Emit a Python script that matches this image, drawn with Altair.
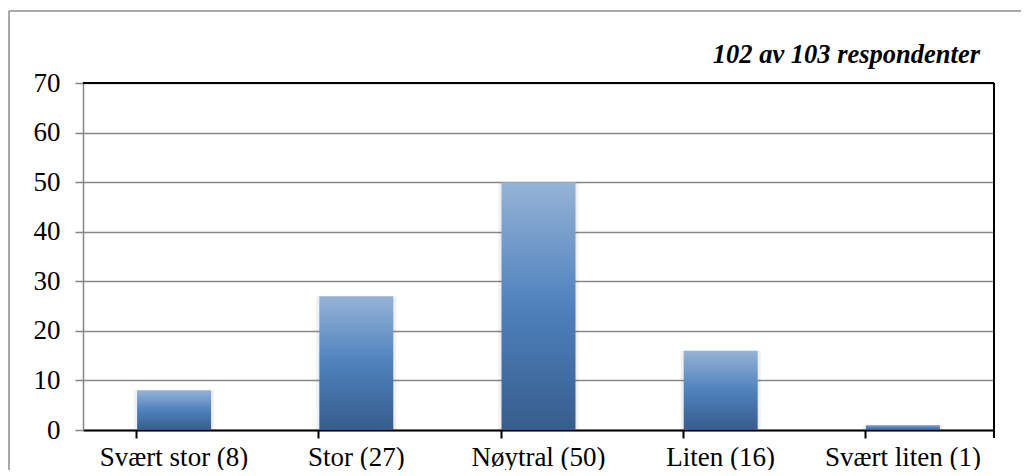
import altair as alt
import pandas as pd

categories = ["Svært stor (8)", "Stor (27)", "Nøytral (50)", "Liten (16)", "Svært liten (1)"]
values = [8, 27, 50, 16, 1]
subtitle = "102 av 103 respondenter"
y_ticks = [0, 10, 20, 30, 40, 50, 60, 70]

df = pd.DataFrame({"cat": categories, "val": values})

W, H = 911, 347
FONT = "Liberation Serif"

grad = alt.Gradient(
    gradient="linear", x1=0, y1=0, x2=0, y2=1,
    stops=[
        alt.GradientStop(color="#95b3d7", offset=0),
        alt.GradientStop(color="#4f81bd", offset=0.5),
        alt.GradientStop(color="#375d8c", offset=1),
    ],
)

x_enc = alt.X(
    "cat:N", sort=categories, title=None,
    scale=alt.Scale(paddingInner=0.59, paddingOuter=0.295),
    axis=alt.Axis(
        labelAngle=0, labelFont=FONT, labelFontSize=27, labelColor="black",
        labelBaseline="alphabetic", labelPadding=27,
        domainColor="black", domainWidth=2,
        tickColor="black", tickWidth=2, tickSize=8, bandPosition=0,
        grid=False,
    ),
)
y_enc = alt.Y(
    "val:Q", title=None,
    scale=alt.Scale(domain=[0, 70], nice=False),
    axis=alt.Axis(
        values=y_ticks, labelFont=FONT, labelFontSize=27, labelColor="black",
        labelPadding=15, domainColor="#868686", domainWidth=1.5,
        tickColor="#868686", tickWidth=1.5, tickSize=8,
        grid=True, gridColor="#888888", gridWidth=1.5,
    ),
)

shadow = alt.Chart(df).mark_bar(color="#000000", opacity=0.06, size=80).encode(
    x=x_enc, y=y_enc
)
bars = alt.Chart(df).mark_bar(color=grad, size=74).encode(x=x_enc, y=y_enc)

frame_df = pd.DataFrame({"k": [0]})
top_line = alt.Chart(frame_df).mark_rule(color="black", strokeWidth=2).encode(
    x=alt.value(0), x2=alt.value(W), y=alt.value(0)
)
right_line = alt.Chart(frame_df).mark_rule(color="black", strokeWidth=2).encode(
    x=alt.value(W), y=alt.value(0), y2=alt.value(H + 8)
)
outer_top = alt.Chart(frame_df).mark_rule(color="#8c8c8c", strokeWidth=1.5).encode(
    x=alt.value(-74), x2=alt.value(W + 60), y=alt.value(-72)
)
outer_left = alt.Chart(frame_df).mark_rule(color="#8c8c8c", strokeWidth=1.5).encode(
    x=alt.value(-74), y=alt.value(-72), y2=alt.value(H + 60)
)
title_df = pd.DataFrame({"t": [subtitle]})
title_text = alt.Chart(title_df).mark_text(
    font=FONT, fontSize=26.5, fontStyle="italic", fontWeight="bold",
    color="black", align="right", baseline="alphabetic",
).encode(text="t:N", x=alt.value(W - 14), y=alt.value(-20))

chart = (
    alt.layer(shadow, bars, top_line, right_line, outer_top, outer_left, title_text)
    .properties(
        width=W, height=H,
        padding={"left": 75, "top": 75, "right": 27, "bottom": 40},
        autosize=alt.AutoSizeParams(type="none"),
    )
    .configure_view(stroke=None)
    .configure(background="white")
)

chart.save("out.html", embed_options={"renderer": "svg", "actions": False})
